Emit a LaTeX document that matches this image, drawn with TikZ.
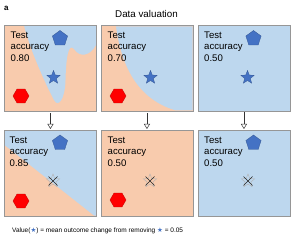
\documentclass[tikz,border=0pt]{standalone}
\usepackage{fontspec}
\setmainfont{Liberation Sans}
\newfontfamily\symfont{DejaVu Sans}
\usetikzlibrary{shapes.geometric,arrows.meta}
\definecolor{peach}{RGB}{248,203,173}
\definecolor{lblue}{RGB}{189,215,238}
\definecolor{sblue}{RGB}{68,114,196}
\definecolor{sred}{RGB}{255,0,0}
\definecolor{bordc}{RGB}{150,150,150}
\begin{document}
\begin{tikzpicture}[x=1pt,y=-1pt,
  panel/.style={rectangle, minimum width=91.5pt, minimum height=85pt, inner sep=0, anchor=north west},
  bord/.style={draw=bordc, line width=0.6pt},
  acc/.style={anchor=north west, inner sep=0, align=left, font=\fontsize{9.6}{11.5}\selectfont},
  pent/.style={regular polygon, regular polygon sides=5, minimum size=16pt, inner sep=0, fill=sblue, draw=sblue!75!black, line width=0.3pt},
  hexa/.style={regular polygon, regular polygon sides=6, minimum size=16pt, inner sep=0, fill=sred, draw=sred!75!black, line width=0.3pt},
  bstar/.style={star, star points=5, star point ratio=2.3, minimum size=14pt, inner sep=0, fill=sblue, draw=sblue!75!black, line width=0.3pt},
  gstar/.style={star, star points=5, star point ratio=2.3, minimum size=14pt, inner sep=0, draw=gray!60, line width=0.4pt},
  xline/.style={draw=gray!30!black, line width=0.6pt},
  arr/.style={draw=gray!40!black, line width=0.5pt, -{Triangle[open, length=5pt, width=6pt]}}
]
\useasboundingbox (0,0) rectangle (297,240);
% title and label
\node[anchor=base west, inner sep=0, font=\fontsize{8}{9}\bfseries\selectfont] (lbl) at (4,10.7) {a};
\node[anchor=base, inner sep=0, font=\fontsize{9.8}{11}\selectfont] (title) at (146.5,17.5) {Data valuation};

% ---------- top row ----------
\node[panel, fill=peach] (p1) at (4.5,25.5) {};
\fill[lblue] (24,25.5) -- (96,25.5) -- (96,45) .. controls (90,56) and (80,58) .. (74,49)
  .. controls (68,42) and (66,60) .. (65.5,80) .. controls (65,100) and (58,108) .. (54,100)
  .. controls (46,85) and (30,50) .. (24,25.5) -- cycle;
\draw[bord] (p1.north west) rectangle (p1.south east);

\node[panel, fill=peach] (p2) at (101,25.5) {};
\fill[lblue] (116,26.5) .. controls (122,70) and (140,100) .. (176,110.5) -- (192.5,110.5) -- (192.5,26.5) -- cycle;
\draw[bord] (p2.north west) rectangle (p2.south east);

\node[panel, fill=lblue] (p3) at (198,25.5) {};
\draw[bord] (p3.north west) rectangle (p3.south east);

\node[acc] (t1) at (10.5,31.5) {Test\\accuracy\\0.80};
\node[acc] (t2) at (107.5,31.5) {Test\\accuracy\\0.70};
\node[acc] (t3) at (204,31.5) {Test\\accuracy\\0.50};

\node[pent] (pa1) at (60,38.5) {};
\node[pent] (pa3) at (253.5,38.5) {};
\node[bstar] (sa1) at (53.5,77.5) {};
\node[bstar] (sa2) at (150.5,77.5) {};
\node[bstar] (sa3) at (247.5,77.5) {};
\node[hexa] (ha1) at (21,96) {};
\node[hexa] (ha2) at (118,96) {};

% ---------- bottom row ----------
\node[panel, fill=peach] (q1) at (4.5,130.5) {};
\fill[lblue] (4.5,130.5) -- (96,130.5) -- (96,215.5) -- (94,215.5) -- (4.5,145) -- cycle;
\draw[bord] (q1.north west) rectangle (q1.south east);

\node[panel, fill=peach] (q2) at (101,130.5) {};
\draw[bord] (q2.north west) rectangle (q2.south east);

\node[panel, fill=lblue] (q3) at (198,130.5) {};
\draw[bord] (q3.north west) rectangle (q3.south east);

\node[acc] (u1) at (9.5,136.5) {Test\\accuracy\\0.85};
\node[acc] (u2) at (107.5,136.5) {Test\\accuracy\\0.50};
\node[acc] (u3) at (204,136.5) {Test\\accuracy\\0.50};

\node[pent] (pb1) at (60,143) {};
\node[pent] (pb3) at (253.5,143) {};
\node[hexa] (hb1) at (21,201) {};
\node[hexa] (hb2) at (118,200) {};
\foreach \n/\x in {sb1/53, sb2/150, sb3/248}{
  \node[gstar] (\n) at (\x,181) {};
  \draw[xline] (\n.center) ++(-4.5,-4.5) -- ++(9,9);
  \draw[xline] (\n.center) ++(-4.5,4.5) -- ++(9,-9);
}

% ---------- arrows ----------
\draw[arr] ([yshift=-2.5pt]p1.south) -- ([yshift=1.5pt]q1.north);
\draw[arr] ([yshift=-2.5pt]p2.south) -- ([yshift=1.5pt]q2.north);
\draw[arr] ([yshift=-1pt]p3.south) -- ([yshift=1.5pt]q3.north);

% ---------- caption ----------
\node[anchor=base west, inner sep=0, font=\fontsize{6.5}{8}\selectfont] (cap) at (12,232)
  {Value({\symfont\color{sblue}★}) = mean outcome change from removing {\symfont\color{sblue}★} = 0.05};
\end{tikzpicture}
\end{document}
